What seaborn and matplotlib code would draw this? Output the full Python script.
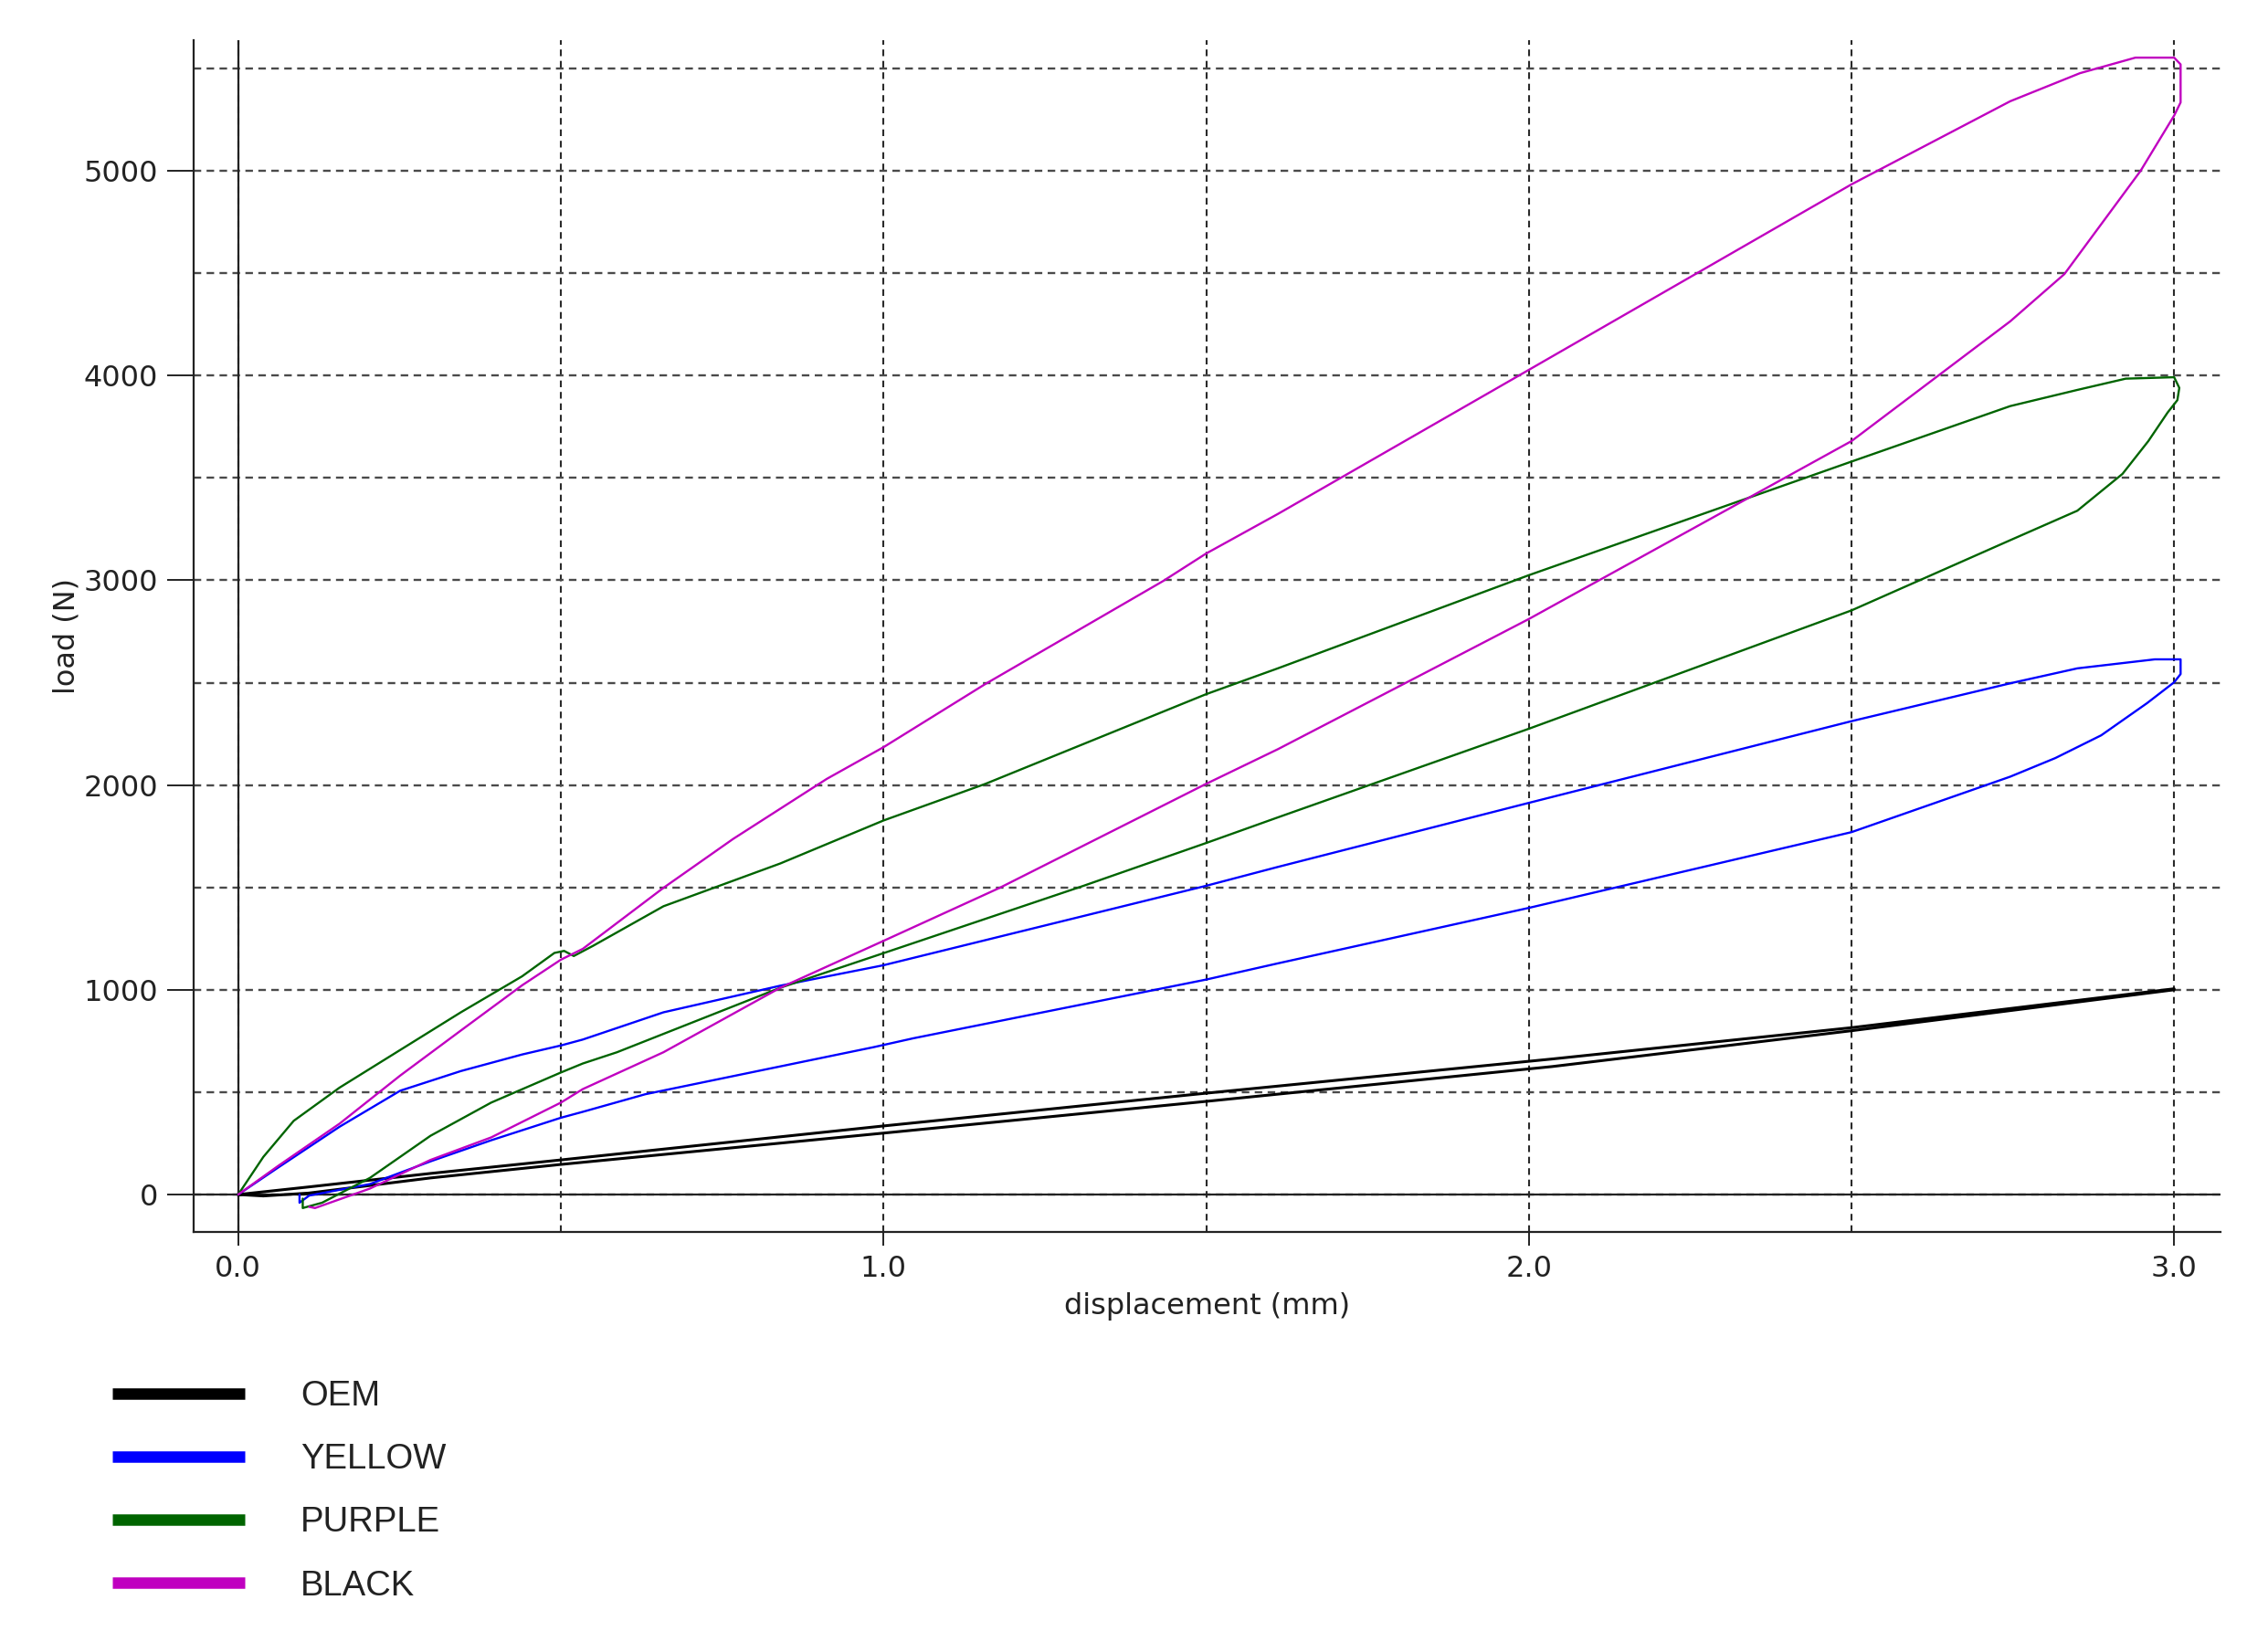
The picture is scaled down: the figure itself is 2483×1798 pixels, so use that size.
import matplotlib
matplotlib.use("Agg")
import matplotlib.pyplot as plt
import pandas as pd
import seaborn as sns
from matplotlib.lines import Line2D
from matplotlib.ticker import MultipleLocator, FormatStrFormatter

# Load/unload loops (loading branch, then unloading branch)
oem_disp = [0, 0.109, 0.298, 0.5, 1.0, 1.5, 2.036, 2.5, 3.0,
            3.0, 2.5, 2.036, 1.5, 1.0, 0.5, 0.298, 0.109, 0.039, 0]
oem_load = [0, 37, 103, 169, 335, 495, 662, 815, 1005,
            1000, 800, 625, 455, 300, 147, 81, 7, -7, 0]

yellow_disp = [0, 0.062, 0.157, 0.251, 0.345, 0.44, 0.5, 0.534, 0.659, 0.84, 1.0, 1.5,
               1.611, 2.0, 2.5, 2.746, 2.85, 2.97, 3.01,
               3.01, 3.0, 2.958, 2.887, 2.816, 2.746, 2.5, 2.0, 1.611, 1.5, 1.046, 0.985,
               0.631, 0.534, 0.5, 0.392, 0.298, 0.204, 0.11, 0.095, 0.095]
yellow_load = [0, 132, 331, 507, 603, 684, 728, 757, 890, 1020, 1120, 1508,
               1600, 1913, 2312, 2497, 2570, 2614, 2614,
               2542, 2502, 2400, 2243, 2132, 2041, 1770, 1400, 1129, 1050, 763, 720,
               490, 404, 375, 265, 162, 51, -5, -40, 0]

purple_disp = [0, 0.039, 0.086, 0.157, 0.251, 0.345, 0.44, 0.49, 0.505, 0.52, 0.55, 0.659,
               0.84, 1.0, 1.158, 1.5, 1.611, 2.0, 2.5, 2.746, 2.85, 2.925, 3.0,
               3.008, 3.005, 2.99, 2.96, 2.92, 2.85, 2.746, 2.5, 2.0, 1.611, 1.5, 1.31,
               1.0, 0.84, 0.587, 0.534, 0.5, 0.392, 0.298, 0.204, 0.13, 0.1, 0.1]
purple_load = [0, 184, 360, 522, 706, 890, 1066, 1180, 1190, 1165, 1215, 1408,
               1617, 1827, 2006, 2444, 2570, 3025, 3580, 3851, 3930, 3985, 3992,
               3940, 3880, 3820, 3680, 3520, 3340, 3196, 2853, 2275, 1842, 1717, 1508,
               1179, 1010, 695, 640, 596, 449, 287, 81, -40, -66, -20]

black_disp = [0, 0.062, 0.157, 0.251, 0.345, 0.44, 0.5, 0.534, 0.659, 0.767, 0.912, 1.0,
              1.158, 1.433, 1.5, 1.611, 2.0, 2.5, 2.746, 2.854, 2.94, 3.0,
              3.01, 3.01, 3.0, 2.948, 2.83, 2.746, 2.5, 2.0, 1.611, 1.5, 1.18, 1.0,
              0.84, 0.659, 0.534, 0.5, 0.392, 0.298, 0.204, 0.119, 0.11]
black_load = [0, 140, 346, 581, 801, 1022, 1147, 1200, 1498, 1737, 2030, 2185,
              2494, 2996, 3131, 3324, 4028, 4934, 5340, 5477, 5553, 5553,
              5520, 5334, 5270, 5000, 4496, 4265, 3680, 2811, 2175, 2006, 1498, 1239,
              1010, 695, 515, 449, 279, 169, 29, -66, -60]

samples = ["OEM", "YELLOW", "PURPLE", "BLACK"]
colors = ["#000000", "#0000ff", "#006400", "#c000c0"]
series = [(oem_disp, oem_load), (yellow_disp, yellow_load),
          (purple_disp, purple_load), (black_disp, black_load)]

frames = []
for name, (d, l) in zip(samples, series):
    frames.append(pd.DataFrame({"disp": d, "load": l, "sample": name}))
df = pd.concat(frames, ignore_index=True)

sns.set_style("white")
plt.rcParams["font.family"] = ["DejaVu Sans"]

fig = plt.figure(figsize=(24.83, 17.98), dpi=100)
ax = fig.add_axes([0.0854, 0.2497, 0.8937, 0.7258])

for name, col in zip(samples, colors):
    lw = 2.2 if name == "OEM" else 1.7
    sns.lineplot(data=df[df["sample"] == name], x="disp", y="load", color=col,
                 sort=False, estimator=None, linewidth=lw, ax=ax, zorder=3)

ax.axhline(0, color="#222222", lw=1.6, zorder=2)
ax.axvline(0, color="#222222", lw=1.6, zorder=2)

ax.set_xlim(-0.069, 3.072)
ax.set_ylim(-183, 5638)
ax.xaxis.set_major_locator(MultipleLocator(1.0))
ax.xaxis.set_minor_locator(MultipleLocator(0.5))
ax.yaxis.set_major_locator(MultipleLocator(1000))
ax.yaxis.set_minor_locator(MultipleLocator(500))
ax.xaxis.set_major_formatter(FormatStrFormatter("%.1f"))

ax.xaxis.grid(True, which="both", color="#2a2a2a", linestyle=(0, (3.5, 2.5)), lw=1.5, zorder=1)
ax.yaxis.grid(True, which="both", color="#4a4a4a", linestyle=(0, (3.5, 2.5)), lw=1.7, zorder=1)

ax.tick_params(axis="x", which="major", direction="out", length=11, width=1.4,
               color="#222222", labelsize=23, pad=7, labelcolor="#222222")
ax.tick_params(axis="y", which="major", direction="out", length=21, width=1.4,
               color="#222222", labelsize=23, pad=7, labelcolor="#222222")
ax.tick_params(which="minor", length=0)
ax.tick_params(bottom=True, left=True)

for s in ["top", "right"]:
    ax.spines[s].set_visible(False)
for s in ["left", "bottom"]:
    ax.spines[s].set_color("#222222")
    ax.spines[s].set_linewidth(1.6)

ax.set_xlabel("displacement (mm)", fontsize=23, color="#222222", labelpad=7)
ax.set_ylabel("load (N)", fontsize=23, color="#222222", labelpad=2)

handles = [Line2D([0], [0], color=c, lw=9, solid_capstyle="butt") for c in colors]
fig.legend(handles, samples, loc="upper left", bbox_to_anchor=(0.0495, 0.1596),
           frameon=False, handlelength=3.8, handletextpad=1.6,
           labelspacing=0.87, borderpad=0, borderaxespad=0, labelcolor="#222222",
           prop={"family": "Liberation Sans", "size": 27.5})

fig.savefig("out.png", dpi=100, facecolor="white")
